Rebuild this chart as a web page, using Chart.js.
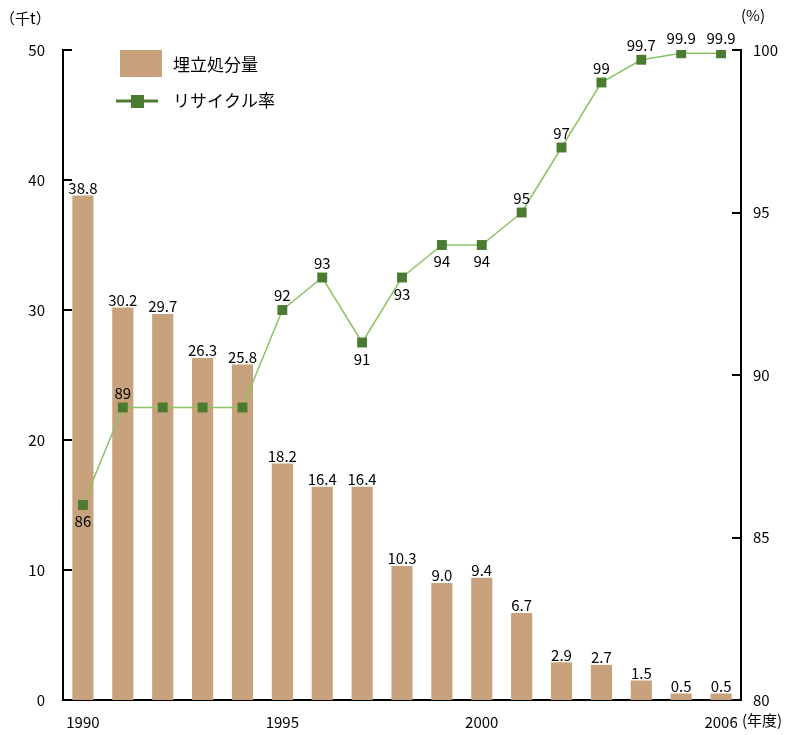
<!DOCTYPE html>
<html>
<head>
<meta charset="utf-8">
<script src="https://cdn.jsdelivr.net/npm/chart.js@4"></script>
<style>
  body { margin: 0; background: #fff; }
  #wrap { width: 797px; height: 735px; }
</style>
</head>
<body>
<div id="wrap"><canvas id="landfillChart" width="797" height="735"></canvas></div>
<script>
// data
const years = ['1990','1991','1992','1993','1994','1995','1996','1997','1998','1999','2000','2001','2002','2003','2004','2005','2006'];
const landfill = [38.8, 30.2, 29.7, 26.3, 25.8, 18.2, 16.4, 16.4, 10.3, 9.0, 9.4, 6.7, 2.9, 2.7, 1.5, 0.5, 0.5];
const recycleRate = [86, 89, 89, 89, 89, 92, 93, 91, 93, 94, 94, 95, 97, 99, 99.7, 99.9, 99.9];
const shownYears = ['1990', '1995', '2000', '2006'];
const leftTicks = [0, 10, 20, 30, 40, 50];
const rightTicks = [80, 85, 90, 95, 100];

// where the rate labels go (null = no label)
const rateLabelPos = ['below','above',null,null,null,'above','above','below','below','below','below','above','above','above','above','above','above'];

const barColor = '#c8a27c';
const lineColor = '#8cc265';
const markerColor = '#4a7b30';
const font = '"Noto Sans CJK JP", "Noto Sans", sans-serif';

const extras = {
  id: 'extras',
  afterDatasetsDraw(chart) {
    const ctx = chart.ctx;
    ctx.save();
    ctx.fillStyle = '#000';
    ctx.font = '15px ' + font;
    ctx.textAlign = 'center';

    // bar value labels
    const barMeta = chart.getDatasetMeta(0);
    barMeta.data.forEach((bar, i) => {
      ctx.textBaseline = 'bottom';
      ctx.fillText(landfill[i].toFixed(1), bar.x, bar.y);
    });

    // rate labels
    const lineMeta = chart.getDatasetMeta(1);
    lineMeta.data.forEach((pt, i) => {
      const pos = rateLabelPos[i];
      if (!pos) return;
      if (pos === 'above') {
        ctx.textBaseline = 'bottom';
        ctx.fillText(String(recycleRate[i]), pt.x, pt.y - 7);
      } else {
        ctx.textBaseline = 'top';
        ctx.fillText(String(recycleRate[i]), pt.x, pt.y + 9);
      }
    });
    ctx.restore();
  },
  afterDraw(chart) {
    const ctx = chart.ctx;
    const area = chart.chartArea;
    const yL = chart.scales.y;
    const yR = chart.scales.y1;
    ctx.save();

    // inward tick marks
    ctx.strokeStyle = '#000';
    ctx.lineWidth = 2;
    leftTicks.forEach(v => {
      const py = Math.round(yL.getPixelForValue(v));
      ctx.beginPath();
      ctx.moveTo(area.left, py);
      ctx.lineTo(area.left + 9, py);
      ctx.stroke();
    });
    rightTicks.forEach(v => {
      const py = Math.round(yR.getPixelForValue(v));
      ctx.beginPath();
      ctx.moveTo(area.right, py);
      ctx.lineTo(area.right - 9, py);
      ctx.stroke();
    });

    // unit labels
    ctx.fillStyle = '#000';
    ctx.font = '15px ' + font;
    ctx.textBaseline = 'middle';
    ctx.textAlign = 'left';
    ctx.fillText('（千t）', 0, 18);
    ctx.fillText('(%)', 741, 15);
    ctx.fillText('(年度)', 742, 720);

    // legend
    ctx.fillStyle = barColor;
    ctx.fillRect(120, 50, 42, 27);
    ctx.strokeStyle = markerColor;
    ctx.lineWidth = 3;
    ctx.beginPath();
    ctx.moveTo(116, 101);
    ctx.lineTo(158, 101);
    ctx.stroke();
    ctx.fillStyle = markerColor;
    ctx.fillRect(131, 95, 13, 13);
    ctx.fillStyle = '#000';
    ctx.font = '17px ' + font;
    ctx.fillText('埋立処分量', 173, 65);
    ctx.fillText('リサイクル率', 173, 101);
    ctx.restore();
  }
};

new Chart(document.getElementById('landfillChart').getContext('2d'), {
  data: {
    labels: years,
    datasets: [{
      type: 'bar',
      label: '埋立処分量',
      data: landfill,
      backgroundColor: barColor,
      yAxisID: 'y',
      barPercentage: 0.53,
      categoryPercentage: 1.0,
      order: 1
    }, {
      type: 'line',
      label: 'リサイクル率',
      data: recycleRate,
      borderColor: lineColor,
      borderWidth: 1.5,
      pointStyle: 'rect',
      pointRadius: 7,
      pointBackgroundColor: markerColor,
      pointBorderColor: markerColor,
      pointBorderWidth: 0,
      tension: 0,
      yAxisID: 'y1',
      order: 0
    }]
  },
  options: {
    responsive: false,
    animation: false,
    layout: { padding: { top: 50, left: 0, right: 0, bottom: 0 } },
    plugins: {
      legend: { display: false },
      tooltip: { enabled: false }
    },
    scales: {
      x: {
        grid: { display: false },
        border: { display: true, color: '#000', width: 2 },
        afterFit: function(scale) { scale.height = 35; },
        ticks: {
          autoSkip: false,
          maxRotation: 0,
          padding: 5,
          color: '#000',
          font: { family: font, size: 15 },
          callback: function(value) {
            const lab = this.getLabelForValue(value);
            return shownYears.includes(lab) ? lab : '';
          }
        }
      },
      y: {
        position: 'left',
        min: 0,
        max: 50,
        grid: { display: false },
        border: { display: true, color: '#000', width: 2 },
        afterFit: function(scale) { scale.width = 63; },
        ticks: {
          stepSize: 10,
          padding: 10,
          color: '#000',
          font: { family: font, size: 15 }
        }
      },
      y1: {
        position: 'right',
        min: 80,
        max: 100,
        grid: { display: false },
        border: { display: true, color: '#000', width: 2 },
        afterFit: function(scale) { scale.width = 56; },
        ticks: {
          stepSize: 5,
          padding: 4,
          color: '#000',
          font: { family: font, size: 15 }
        }
      }
    }
  },
  plugins: [extras]
});
</script>
</body>
</html>
